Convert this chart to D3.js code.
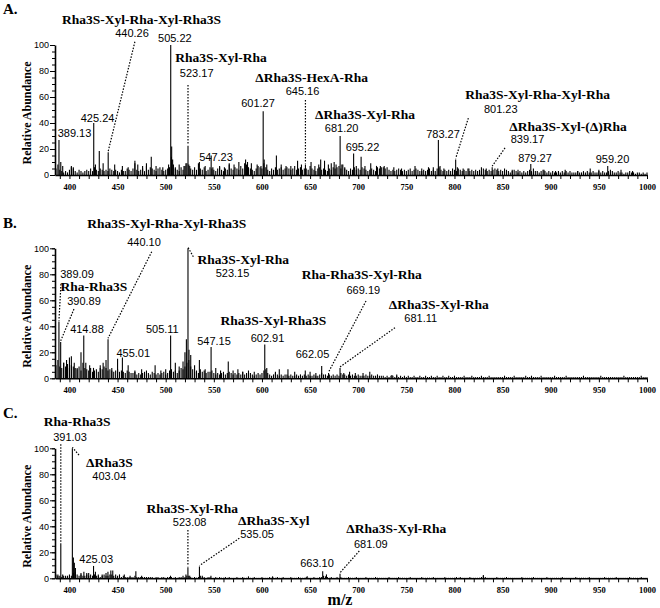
<!DOCTYPE html>
<html>
<head>
<meta charset="utf-8">
<script src="https://cdn.jsdelivr.net/npm/d3@7.9.0/dist/d3.min.js"></script>
<style>
  body { margin: 0; background: #fff; }
  svg text { fill: #000; }
  .name { font: bold 13.5px "Liberation Serif", "Times New Roman", serif; }
  .num { font: 11px "Liberation Sans", Arial, sans-serif; }
  .xax text { font: bold 8.5px "Liberation Serif", "Times New Roman", serif; }
  .yax text { font: 9px "Liberation Sans", Arial, sans-serif; }
  .ytitle { font: bold 12px "Liberation Serif", "Times New Roman", serif; }
  .letter { font: bold 15px "Liberation Serif", "Times New Roman", serif; }
  .mz { font: bold 16px "Liberation Serif", "Times New Roman", serif; }
</style>
</head>
<body>
<svg id="chart" width="660" height="608"></svg>
<script>
// m/z range and tick labels
const mzDomain = [385, 1000];
const xTickLabels = [400, 450, 500, 550, 600, 650, 700, 750, 800, 850, 900, 950, 1000];
const yTickLabels = [0, 20, 40, 60, 80, 100];
const panelLetters = ['A.', 'B.', 'C.'];

// baseline noise, sampled every 2 m/z starting at 386
const noiseStart = 386;
const noiseStep = 2;

const noiseA = [
  5,8,4,3,2,3,2,4,6,5, 3,2,4,3,2,3,4,3,5,3, 6,4,3,5,4,3,4,3,5,4, 3,4,3,2,4,3,3,5,4,3,
  5,9,4,3,4,5,3,7,4,6, 5,4,3,5,6,4,3,4,5,6, 14,8,5,4,3,6,4,7,9,8, 5,4,6,4,9,5,4,6,3,4,
  6,5,4,3,5,6,4,3,5,4, 8,5,4,6,5,4,7,5,9,8, 6,5,4,3,5,7,6,5,9,6, 4,3,5,4,6,4,5,6,4,5,
  6,5,4,5,7,4,5,6,4,5, 5,4,7,5,4,3,5,6,4,5, 4,3,5,4,6,5,6,7,5,8, 5,4,3,5,4,6,4,5,4,6,
  5,4,3,4,5,4,3,6,5,6, 6,5,6,4,3,4,3,4,5,4, 3,4,3,4,5,3,4,5,4,3, 3,4,3,4,5,3,4,3,5,6,
  4,3,4,3,4,3,5,4,3,5, 4,3,4,3,5,3,4,3,4,3, 4,3,5,4,3,4,3,4,5,4, 3,4,3,2,4,3,2,3,4,3,
  2,3,2,3,2,3,4,3,2,3, 3,2,3,4,3,2,3,2,3,2, 2,3,2,3,2,3,2,3,2,2, 2,3,2,2,3,2,3,2,2,3,
  2,2,3,2,3,2,2,3,2,3, 2,2,3,2,2,1,2,2,3,2, 2,1,2,2,1,2,1,2
];
const noiseB = [
  10,14,9,8,12,9,11,8,10,9, 8,7,9,6,12,8,7,6,8,5, 6,7,5,8,7,9,8,6,7,6, 5,6,7,5,6,5,4,6,5,4,
  4,5,3,4,3,4,5,3,4,3, 5,4,3,4,3,4,5,3,4,6, 7,5,6,4,6,8,7,9,12,14, 9,7,5,6,4,7,5,6,4,5,
  5,6,4,3,4,3,4,5,3,4, 5,4,3,4,3,4,3,5,3,4, 3,4,3,2,3,4,3,4,6,7, 4,3,2,3,4,3,2,3,2,3,
  3,2,3,2,2,3,2,3,2,3, 2,3,2,2,3,2,2,3,4,3, 3,2,3,2,3,2,3,2,4,3, 3,2,3,2,3,2,2,3,2,2,
  2,3,2,2,3,2,2,1,2,2, 2,1,2,1,2,2,1,2,1,2, 1,2,1,2,1,1,2,1,1,2, 1,1,2,1,1,2,1,1,2,1,
  1,2,1,1,2,1,1,2,1,1, 1,1,2,1,1,1,2,1,1,1, 1,2,1,1,1,2,1,1,1,1, 1,1,1,2,1,1,1,1,2,1,
  1,1,1,1,2,1,1,1,1,1, 1,1,2,1,1,1,1,1,1,2, 1,1,1,1,1,2,1,1,1,1, 1,1,1,1,2,1,1,1,1,1,
  1,1,1,2,1,1,1,1,1,1, 1,1,1,1,1,2,1,1,1,1, 1,1,1,1,2,1,1,1
];
const noiseC = [
  3,2,2,1,2,1,2,1,2,4, 5,3,2,3,2,2,3,2,3,2, 3,2,2,1,2,3,2,2,3,3, 2,1,2,1,1,2,1,1,1,1,
  1,2,1,1,1,1,1,1,1,1, 1,0.5,1,1,0.5,1,1,0.5,1,1, 1,0.5,1,0.5,1,1,0.5,1,2,2, 1,0.5,1,0.5,1,2,1,1,0.5,1,
  1,0.5,0.5,1,0.5,1,0.5,0.5,1,0.5, 1,0.5,0.5,0.5,1,0.5,0.5,1,0.5,0.5, 1,0.5,0.5,1,0.5,0.5,0.5,1,0.5,0.5,
  0.5,1,0.5,0.5,0.5,1,0.5,0.5,1,0.5, 0.5,0.5,1,0.5,0.5,0.5,1,0.5,0.5,0.5, 1,0.5,0.5,0.5,1,0.5,0.5,1,1,2,
  1.5,1,0.5,1,0.5,0.5,1,0.5,1,0.5, 0.5,0.5,1,0.5,0.5,0.5,1,0.5,0.5,0.5, 0.5,1,0.5,0.5,0.5,0.5,1,0.5,0.5,0.5,
  0.5,0.5,0.5,1,0.5,0.5,0.5,0.5,1,0.5, 0.5,0.5,0.5,0.5,1,0.5,0.5,0.5,0.5,0.5, 1,0.5,0.5,0.5,0.5,0.5,1,0.5,0.5,0.5,
  0.5,0.5,1,0.5,0.5,0.5,0.5,0.5,1,0.5, 1,0.5,0.5,0.5,0.5,1,0.5,0.5,0.5,0.5, 0.5,1,1.5,1,0.5,0.5,0.5,0.5,0.5,1,
  0.5,0.5,0.5,0.5,1,0.5,0.5,0.5,0.5,0.5, 0.5,0.5,1,0.5,0.5,0.5,0.5,0.5,1,0.5, 0.5,0.5,0.5,0.5,0.5,1,0.5,0.5,0.5,0.5,
  0.5,0.5,0.5,1,0.5,0.5,0.5,0.5,0.5,0.5, 1,0.5,0.5,0.5,0.5,0.5,0.5,1,0.5,0.5, 0.5,0.5,0.5,0.5,0.5,1,0.5,0.5,0.5,0.5,
  0.5,1,0.5,0.5,0.5,0.5,0.5,0.5,1,0.5, 0.5,0.5,0.5,0.5,1,0.5,0.5,0.5
];

// peaks: [m/z, relative abundance %]
const peaksA = [
  [389.13,27],[391,10],[393,7],[402,7],[404,6],[425.24,40],[427,8],[431,18.5],[435,9],[440.26,17.5],
  [447,8],[455,7],[461,6],[468,11],[471,8],[476,7],[480,9],[485,14],[490,7],[497,6],[503,8],
  [505.22,100],[506.2,22],[507.2,12],[510,6],[514,8],[519,7],[521,9],[523.17,22.5],[525,7],[535,10],
  [541,7],[547.23,15],[549,6],[556,7],[561,6],[566,9],[571,8],[576,10],[583,12],[585,10],[589,9],
  [595,8],[599,7],[601.27,49],[602.3,12],[605,8],[615,15],[620,8],[625,7],[630,7],[637,11],[641,8],
  [645.16,8],[651,10],[655,7],[659,8],[661,12],[665,11],[669,8],[672,9],[675,10],[677,8],[681.20,30],
  [683,8],[686,6],[695.22,16.5],[698,7],[703,14],[707,7],[713,9],[719,7],[723,7],[727,7],[737,6],
  [745,5],[759,7],[766,5],[773,6],[778,6],[783.27,27],[785,7],[789,5],[801.23,12],[803,6],[809,5],
  [815,5],[828,6],[833,5],[839.17,6],[845,5],[852,5],[860,4],[866,4],[879.27,8.5],[882,5],[893,4],
  [905,3],[915,4],[928,3],[941,5],[950,4],[959.20,7],[962,4],[973,4],[985,3]
];
const peaksB = [
  [389.09,43.6],[390.89,28],[394,12],[397,14],[400,16],[402,17],[405,12],[408,8],[412,20],[414.88,33],
  [417,12],[421,10],[425,8],[432,10],[435,12],[438,14],[440.10,30],[444,8],[450,15],[455.01,16],
  [461,10],[468,6],[475,7],[480,6],[489,10],[495,6],[500,7],[505.11,33],[510,12],[514,9],[518,13],
  [520,20],[521.5,30],[523.15,100],[524.2,22],[526,18],[530,10],[535,14],[541,7],[547.15,24],[552,8],
  [557,6],[565,13],[570,6],[575,7],[580,5],[586,6],[592,5],[602.91,26],[605,8],[614,5],[618,7],
  [627,7],[634,5],[645,6],[650,5],[656,4],[662.05,9.5],[669.19,4],[681.11,8],[685,4],[691,5],[697,4],
  [705,4],[712,5],[720,3],[735,2.5],[740,3],[880,2]
];
const peaksC = [
  [388,3],[391.03,27],[393,3],[396,2],[400,3],[403.04,100],[404.1,16],[405.1,12],[406.2,8],[412,4],
  [415,5],[418,4],[420,4],[425.03,9.5],[427,5],[430,3],[434,3],[438,4],[440,5],[443,6],[445,6],
  [448,3],[452,3],[457,3],[463,2],[469,5.5],[475,2],[505,2],[518,2],[521,3],[523.08,8.5],[525,2],
  [535.05,9],[538,2],[547,2],[586,1.5],[611,1.5],[647,1.5],[663.10,5.5],[667,3],[681.09,3.5],[830,2.5]
];

// annotations: peak m/z, label text, label anchors in data units [m/z, %], leader start
const notesA = [
  { mz: 440.26, name: 'Rha3S-Xyl-Rha-Xyl-Rha3S', nameAt: [475, 116.5], num: '440.26', numAt: [465, 106], line: [468, 102.5] },
  { mz: 505.22, num: '505.22', numAt: [509.5, 102.3] },
  { mz: 523.17, name: 'Rha3S-Xyl-Rha', nameAt: [557.4, 86.8], num: '523.17', numAt: [532.2, 75.4], line: [523.17, 69.2] },
  { mz: 645.16, name: '\u0394Rha3S-HexA-Rha', nameAt: [651.7, 71.2], num: '645.16', numAt: [642.1, 61.2], line: [645.16, 57.7] },
  { mz: 601.27, num: '601.27', numAt: [595.9, 52.5] },
  { mz: 681.20, name: '\u0394Rha3S-Xyl-Rha', nameAt: [707, 43], num: '681.20', numAt: [682.8, 33.3] },
  { mz: 695.22, num: '695.22', numAt: [704.4, 18.5] },
  { mz: 783.27, num: '783.27', numAt: [788.1, 28.6] },
  { mz: 801.23, name: 'Rha3S-Xyl-Rha-Xyl-Rha', nameAt: [886.3, 58.4], num: '801.23', numAt: [848.1, 47.4], line: [814.4, 43.8] },
  { mz: 839.17, name: '\u0394Rha3S-Xyl-(\u0394)Rha', nameAt: [917.9, 34], num: '839.17', numAt: [875.9, 24.4], line: [852.5, 20.8] },
  { mz: 879.27, num: '879.27', numAt: [883.6, 10.2] },
  { mz: 959.20, num: '959.20', numAt: [964.2, 9.2] },
  { mz: 547.23, num: '547.23', numAt: [552.3, 11] },
  { mz: 425.24, num: '425.24', numAt: [429.2, 41] },
  { mz: 389.13, num: '389.13', numAt: [405.3, 29.5] }
];
const notesB = [
  { mz: 440.10, name: 'Rha3S-Xyl-Rha-Xyl-Rha3S', nameAt: [501, 116], num: '440.10', numAt: [477.5, 102], line: [485.5, 97.4] },
  { mz: 389.09, num: '389.09', numAt: [407.9, 76.9], line: [391.2, 72.5] },
  { mz: 390.89, name: 'Rha-Rha3S', nameAt: [425.3, 67.2], num: '390.89', numAt: [415.1, 56.4], line: [404.7, 53.3] },
  { mz: 414.88, num: '414.88', numAt: [418.2, 34.6] },
  { mz: 455.01, num: '455.01', numAt: [466.3, 16.6] },
  { mz: 505.11, num: '505.11', numAt: [496.5, 34.6] },
  { mz: 523.15, name: 'Rha3S-Xyl-Rha', nameAt: [580.6, 87.8], num: '523.15', numAt: [569.4, 77.7], line: [528.7, 93.5] },
  { mz: 547.15, num: '547.15', numAt: [550.2, 25.6] },
  { mz: 602.91, name: 'Rha3S-Xyl-Rha3S', nameAt: [611.8, 41.2], num: '602.91', numAt: [605.8, 28.2] },
  { mz: 662.05, num: '662.05', numAt: [652.5, 15.4] },
  { mz: 669.19, name: 'Rha-Rha3S-Xyl-Rha', nameAt: [703.6, 76.2], num: '669.19', numAt: [705.3, 64.8], line: [708.1, 59.5] },
  { mz: 681.11, name: '\u0394Rha3S-Xyl-Rha', nameAt: [783.7, 53.2], num: '681.11', numAt: [765, 43.5], line: [738.2, 38.9] }
];
const notesC = [
  { mz: 391.03, name: 'Rha-Rha3S', nameAt: [407.9, 117.2], num: '391.03', numAt: [400.6, 105.8], line: [391.03, 103.1] },
  { mz: 403.04, name: '\u0394Rha3S', nameAt: [441.4, 85.8], num: '403.04', numAt: [441.3, 75.6], line: [409.9, 94.8] },
  { mz: 425.03, num: '425.03', numAt: [427.8, 11.5] },
  { mz: 523.08, name: 'Rha3S-Xyl-Rha', nameAt: [527.5, 50.6], num: '523.08', numAt: [524.9, 40.2], line: [523.08, 37.2] },
  { mz: 535.05, name: '\u0394Rha3S-Xyl', nameAt: [612.2, 41], num: '535.05', numAt: [594.9, 30.9], line: [576.5, 30.8] },
  { mz: 663.10, num: '663.10', numAt: [657.2, 8.9] },
  { mz: 681.09, name: '\u0394Rha3S-Xyl-Rha', nameAt: [739.6, 35.2], num: '681.09', numAt: [713.1, 23.1], line: [701.1, 21] }
];

const panels = [
  { letter: panelLetters[0], top: 45, letterY: 14, noise: noiseA, peaks: peaksA, notes: notesA },
  { letter: panelLetters[1], top: 248.3, letterY: 228, noise: noiseB, peaks: peaksB, notes: notesB },
  { letter: panelLetters[2], top: 448.3, letterY: 418, noise: noiseC, peaks: peaksC, notes: notesC }
];

const svg = d3.select('#chart');
const plotH = 130;
const x = d3.scaleLinear().domain(mzDomain).range([55, 647]);

function drawPanel(p) {
  const y = d3.scaleLinear().domain([0, 100]).range([p.top + plotH, p.top]);
  const g = svg.append('g');

  // noise + peaks as sticks
  const noisePts = p.noise.map((v, i) => [noiseStart + i * noiseStep, v]);
  const sticks = noisePts.concat(p.peaks);
  g.append('g').selectAll('line').data(sticks).join('line')
    .attr('x1', d => x(d[0])).attr('x2', d => x(d[0]))
    .attr('y1', y(0)).attr('y2', d => y(d[1]))
    .attr('stroke', '#000').attr('stroke-width', 1.1);

  // x axis: ticks every 10, labels every 50
  const xAxis = d3.axisBottom(x)
    .tickValues(d3.range(390, 1001, 10))
    .tickSize(4).tickSizeOuter(0).tickPadding(5)
    .tickFormat(d => xTickLabels.includes(d) ? d : '');
  g.append('g').attr('class', 'xax')
    .attr('transform', `translate(0,${y(0)})`)
    .call(xAxis)
    .call(a => a.select('.domain').attr('stroke-width', 1.6))
    .call(a => a.selectAll('.tick line').attr('stroke-width', 1));

  // y axis: minor ticks every 5, labelled ticks every 20
  g.append('g').attr('transform', `translate(55,0)`)
    .call(d3.axisLeft(y).tickValues(d3.range(0, 101, 5)).tickSize(3).tickSizeOuter(0).tickFormat(''))
    .call(a => a.select('.domain').attr('stroke-width', 1.6));
  g.append('g').attr('class', 'yax').attr('transform', `translate(55,0)`)
    .call(d3.axisLeft(y).tickValues(yTickLabels).tickSize(5).tickSizeOuter(0).tickPadding(1))
    .call(a => a.select('.domain').remove());

  g.append('text').attr('class', 'ytitle')
    .attr('transform', `translate(31,${p.top + plotH / 2 + 3}) rotate(-90)`)
    .attr('text-anchor', 'middle')
    .text('Relative Abundance');

  g.append('text').attr('class', 'letter').attr('x', 3).attr('y', p.letterY).text(p.letter);

  // annotations
  const peakTop = mz => {
    const hit = p.peaks.find(d => d[0] === mz);
    return hit ? hit[1] : 0;
  };
  p.notes.forEach(n => {
    if (n.line) {
      g.append('line')
        .attr('x1', x(n.line[0])).attr('y1', y(n.line[1]))
        .attr('x2', x(n.mz)).attr('y2', y(peakTop(n.mz)) - 1)
        .attr('stroke', '#000').attr('stroke-width', 1.2)
        .attr('stroke-dasharray', '1.5,1.5');
    }
    if (n.name) {
      g.append('text').attr('class', 'name').attr('text-anchor', 'middle')
        .attr('x', x(n.nameAt[0])).attr('y', y(n.nameAt[1])).text(n.name);
    }
    g.append('text').attr('class', 'num').attr('text-anchor', 'middle')
      .attr('x', x(n.numAt[0])).attr('y', y(n.numAt[1])).text(n.num);
  });
}

panels.forEach(drawPanel);

svg.append('text').attr('class', 'mz').attr('text-anchor', 'middle')
  .attr('x', 340).attr('y', 605).text('m/z');
</script>
</body>
</html>
